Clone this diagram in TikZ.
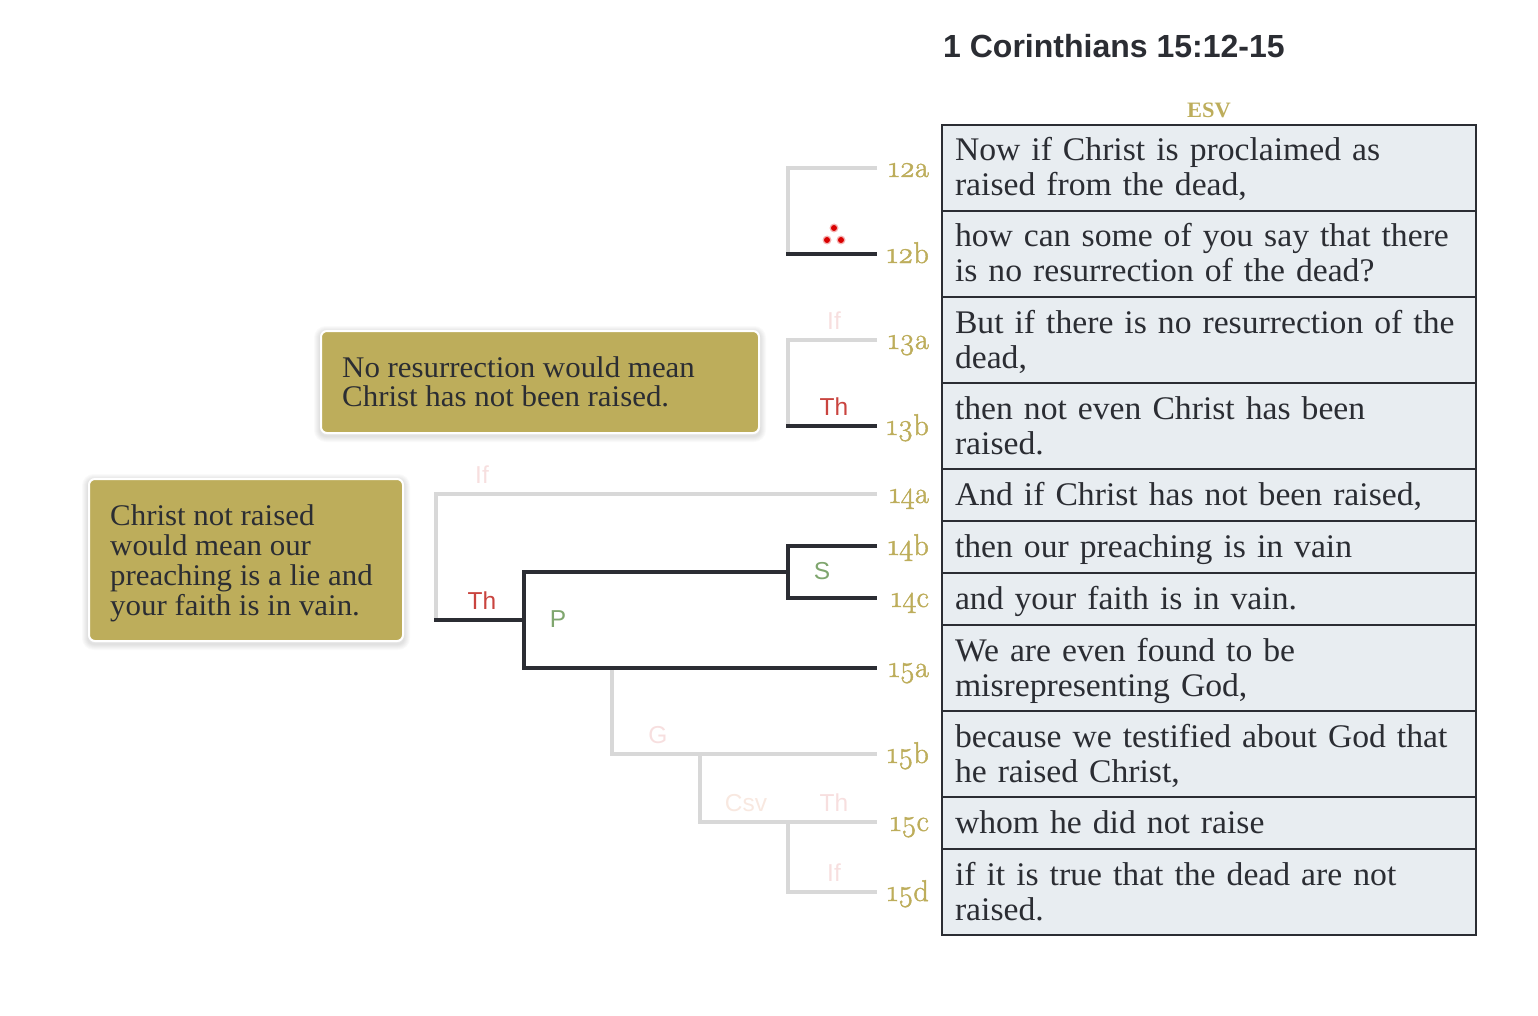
\documentclass[tikz,border=0pt]{standalone}
\usepackage{fontspec}
\setmainfont[FakeStretch=1.02]{Liberation Serif}
\setsansfont{Liberation Sans}
\newfontfamily\versefont[Numbers=OldStyle,FakeBold=1.6]{Latin Modern Roman}
\newfontfamily\notefont[FakeStretch=1.03]{Liberation Serif}
\newcommand{\rowtop}{\rule{0pt}{29pt}}
\newcommand{\rowend}{\rule[-8pt]{0pt}{8pt}}
\usetikzlibrary{backgrounds}
\definecolor{ink}{HTML}{2B2D33}
\definecolor{gold}{HTML}{BDAD5B}
\definecolor{rowfill}{HTML}{E8EDF1}
\definecolor{faint}{HTML}{D8D8D8}
\definecolor{thred}{HTML}{C9443F}
\definecolor{relgreen}{HTML}{7FA66E}
\definecolor{palepink}{HTML}{F7DFDF}
\definecolor{palepeach}{HTML}{F8E8E0}
\tikzset{
  row/.style={draw=ink,line width=2pt,fill=rowfill,text=ink,anchor=north west,
    text width=508pt,inner xsep=13pt,inner ysep=0pt,align=left,
    font=\fontsize{33}{35}\selectfont},
  verse/.style={text=gold,anchor=base east,inner sep=0pt,font=\versefont\fontsize{30}{30}\selectfont},
  rel/.style={inner sep=0pt,font=\sffamily\fontsize{24.5}{24.5}\selectfont},
  note/.style={draw=white,line width=2pt,fill=gold,rounded corners=6pt,anchor=north west,inner sep=0pt},
  notetext/.style={anchor=north west,inner sep=0pt,text=ink,align=left},
  strong/.style={draw=ink,line width=4pt},
  weak/.style={draw=faint,line width=4pt},
}
\begin{document}
\begin{tikzpicture}[x=1pt,y=-1pt]
  \useasboundingbox (0,0) rectangle (1538,1016);
  \node[anchor=base west,inner sep=0pt,text=ink,font=\sffamily\bfseries\fontsize{32}{32}\selectfont] (title) at (943,58) {1 Corinthians 15:12-15};
  \node[text=gold,inner sep=0pt,font=\bfseries\fontsize{22}{22}\selectfont] (esv) at (1209,110) {ESV};

  % text column
  \node[row,minimum height=86pt] (r12a) at (941,124) {\rowtop Now if Christ is proclaimed as\\raised from the dead,\rowend};
  \node[row,minimum height=86pt] (r12b) at (941,210) {\rowtop how can some of you say that there\\is no resurrection of the dead?\rowend};
  \node[row,minimum height=86pt] (r13a) at (941,296) {\rowtop But if there is no resurrection of the\\dead,\rowend};
  \node[row,minimum height=86pt] (r13b) at (941,382) {\rowtop then not even Christ has been\\raised.\rowend};
  \node[row,minimum height=52pt] (r14a) at (941,468) {\rowtop And if Christ has not been raised,\rowend};
  \node[row,minimum height=52pt] (r14b) at (941,520) {\rowtop then our preaching is in vain\rowend};
  \node[row,minimum height=52pt] (r14c) at (941,572) {\rowtop and your faith is in vain.\rowend};
  \node[row,minimum height=86pt] (r15a) at (941,624) {\rowtop We are even found to be\\misrepresenting God,\rowend};
  \node[row,minimum height=86pt] (r15b) at (941,710) {\rowtop because we testified about God that\\he raised Christ,\rowend};
  \node[row,minimum height=52pt] (r15c) at (941,796) {\rowtop whom he did not raise\rowend};
  \node[row,minimum height=86pt] (r15d) at (941,848) {\rowtop if it is true that the dead are not\\raised.\rowend};

  % verse labels and line ends
  \foreach \v/\y in {12a/168,12b/254,13a/340,13b/426,14a/494,14b/546,14c/598,15a/668,15b/754,15c/822,15d/892} {
    \node[verse] (l\v) at (929,\y+9) {\v};
    \coordinate (e\v) at (877,\y);
  }

  % notes
  \node[note,minimum width=438pt,minimum height=102pt] (noteA) at (320,330) {};
  \node[notetext,font=\notefont\fontsize{30}{29}\selectfont] (noteAtext) at (342,356) {No resurrection would mean\\Christ has not been raised.};
  \node[note,minimum width=314pt,minimum height=162pt] (noteB) at (88,478) {};
  \node[notetext,font=\notefont\fontsize{30}{30}\selectfont] (noteBtext) at (110,504) {Christ not raised\\would mean our\\preaching is a lie and\\your faith is in vain.};

  \begin{scope}[on background layer]
    \foreach \g in {2,4,...,12} {
      \draw[black,opacity=0.02,line width=\g pt,rounded corners=6pt] ([yshift=-2pt]noteA.north west) rectangle ([yshift=-2pt]noteA.south east);
      \draw[black,opacity=0.02,line width=\g pt,rounded corners=6pt] ([yshift=-2pt]noteB.north west) rectangle ([yshift=-2pt]noteB.south east);
    }
  \end{scope}

  % junctions
  \coordinate (a12) at (788,168);
  \coordinate (b12) at (788,254);
  \coordinate (a13) at (788,340);
  \coordinate (b13) at (788,426);
  \coordinate (a14) at (436,494);
  \coordinate (b14) at (436,620);
  \coordinate (p) at (524,620);
  \coordinate (pt) at (524,572);
  \coordinate (pb) at (524,668);
  \coordinate (st) at (788,546);
  \coordinate (sm) at (788,572);
  \coordinate (sb) at (788,598);
  \coordinate (g) at (612,668);
  \coordinate (gb) at (612,754);
  \coordinate (c) at (700,754);
  \coordinate (cb) at (700,822);
  \coordinate (d) at (788,822);
  \coordinate (db) at (788,892);

  \draw[weak] (e12a) -- (a12) -- (b12);
  \draw[weak] (e13a) -- (a13) -- (b13);
  \draw[weak] (e14a) -- (a14) -- (b14);
  \draw[weak] (g) -- (gb) -- (e15b);
  \draw[weak] (c) -- (cb) -- (e15c);
  \draw[weak] (d) -- (db) -- (e15d);

  \draw[strong] ([xshift=-2pt]b12) -- (e12b);
  \draw[strong] ([xshift=-2pt]b13) -- (e13b);
  \draw[strong] ([xshift=-2pt]b14) -- (p);
  \draw[strong] (e14b) -- (st) -- (sb) -- (e14c);
  \draw[strong] (sm) -- (pt) -- (pb) -- (e15a);

  % relation labels
  \node[rel,text=palepink] (if13) at (834,321) {If};
  \node[rel,text=thred] (th13) at (834,407) {Th};
  \node[rel,text=palepink] (if14) at (482,475) {If};
  \node[rel,text=thred] (th14) at (482,601) {Th};
  \node[rel,text=relgreen] (pl) at (558,619) {P};
  \node[rel,text=relgreen] (sl) at (822,571) {S};
  \node[rel,text=palepink] (gl) at (658,735) {G};
  \node[rel,text=palepeach] (csv) at (746,803) {Csv};
  \node[rel,text=palepink] (th15) at (834,803) {Th};
  \node[rel,text=palepink] (if15) at (834,873) {If};

  % three dots
  \foreach \x/\y in {834/228,827/240,841/240} {
    \fill[red!85!black,opacity=0.3] (\x,\y) circle (4.5);
    \fill[red!85!black] (\x,\y) circle (3);
  }
\end{tikzpicture}
\end{document}
